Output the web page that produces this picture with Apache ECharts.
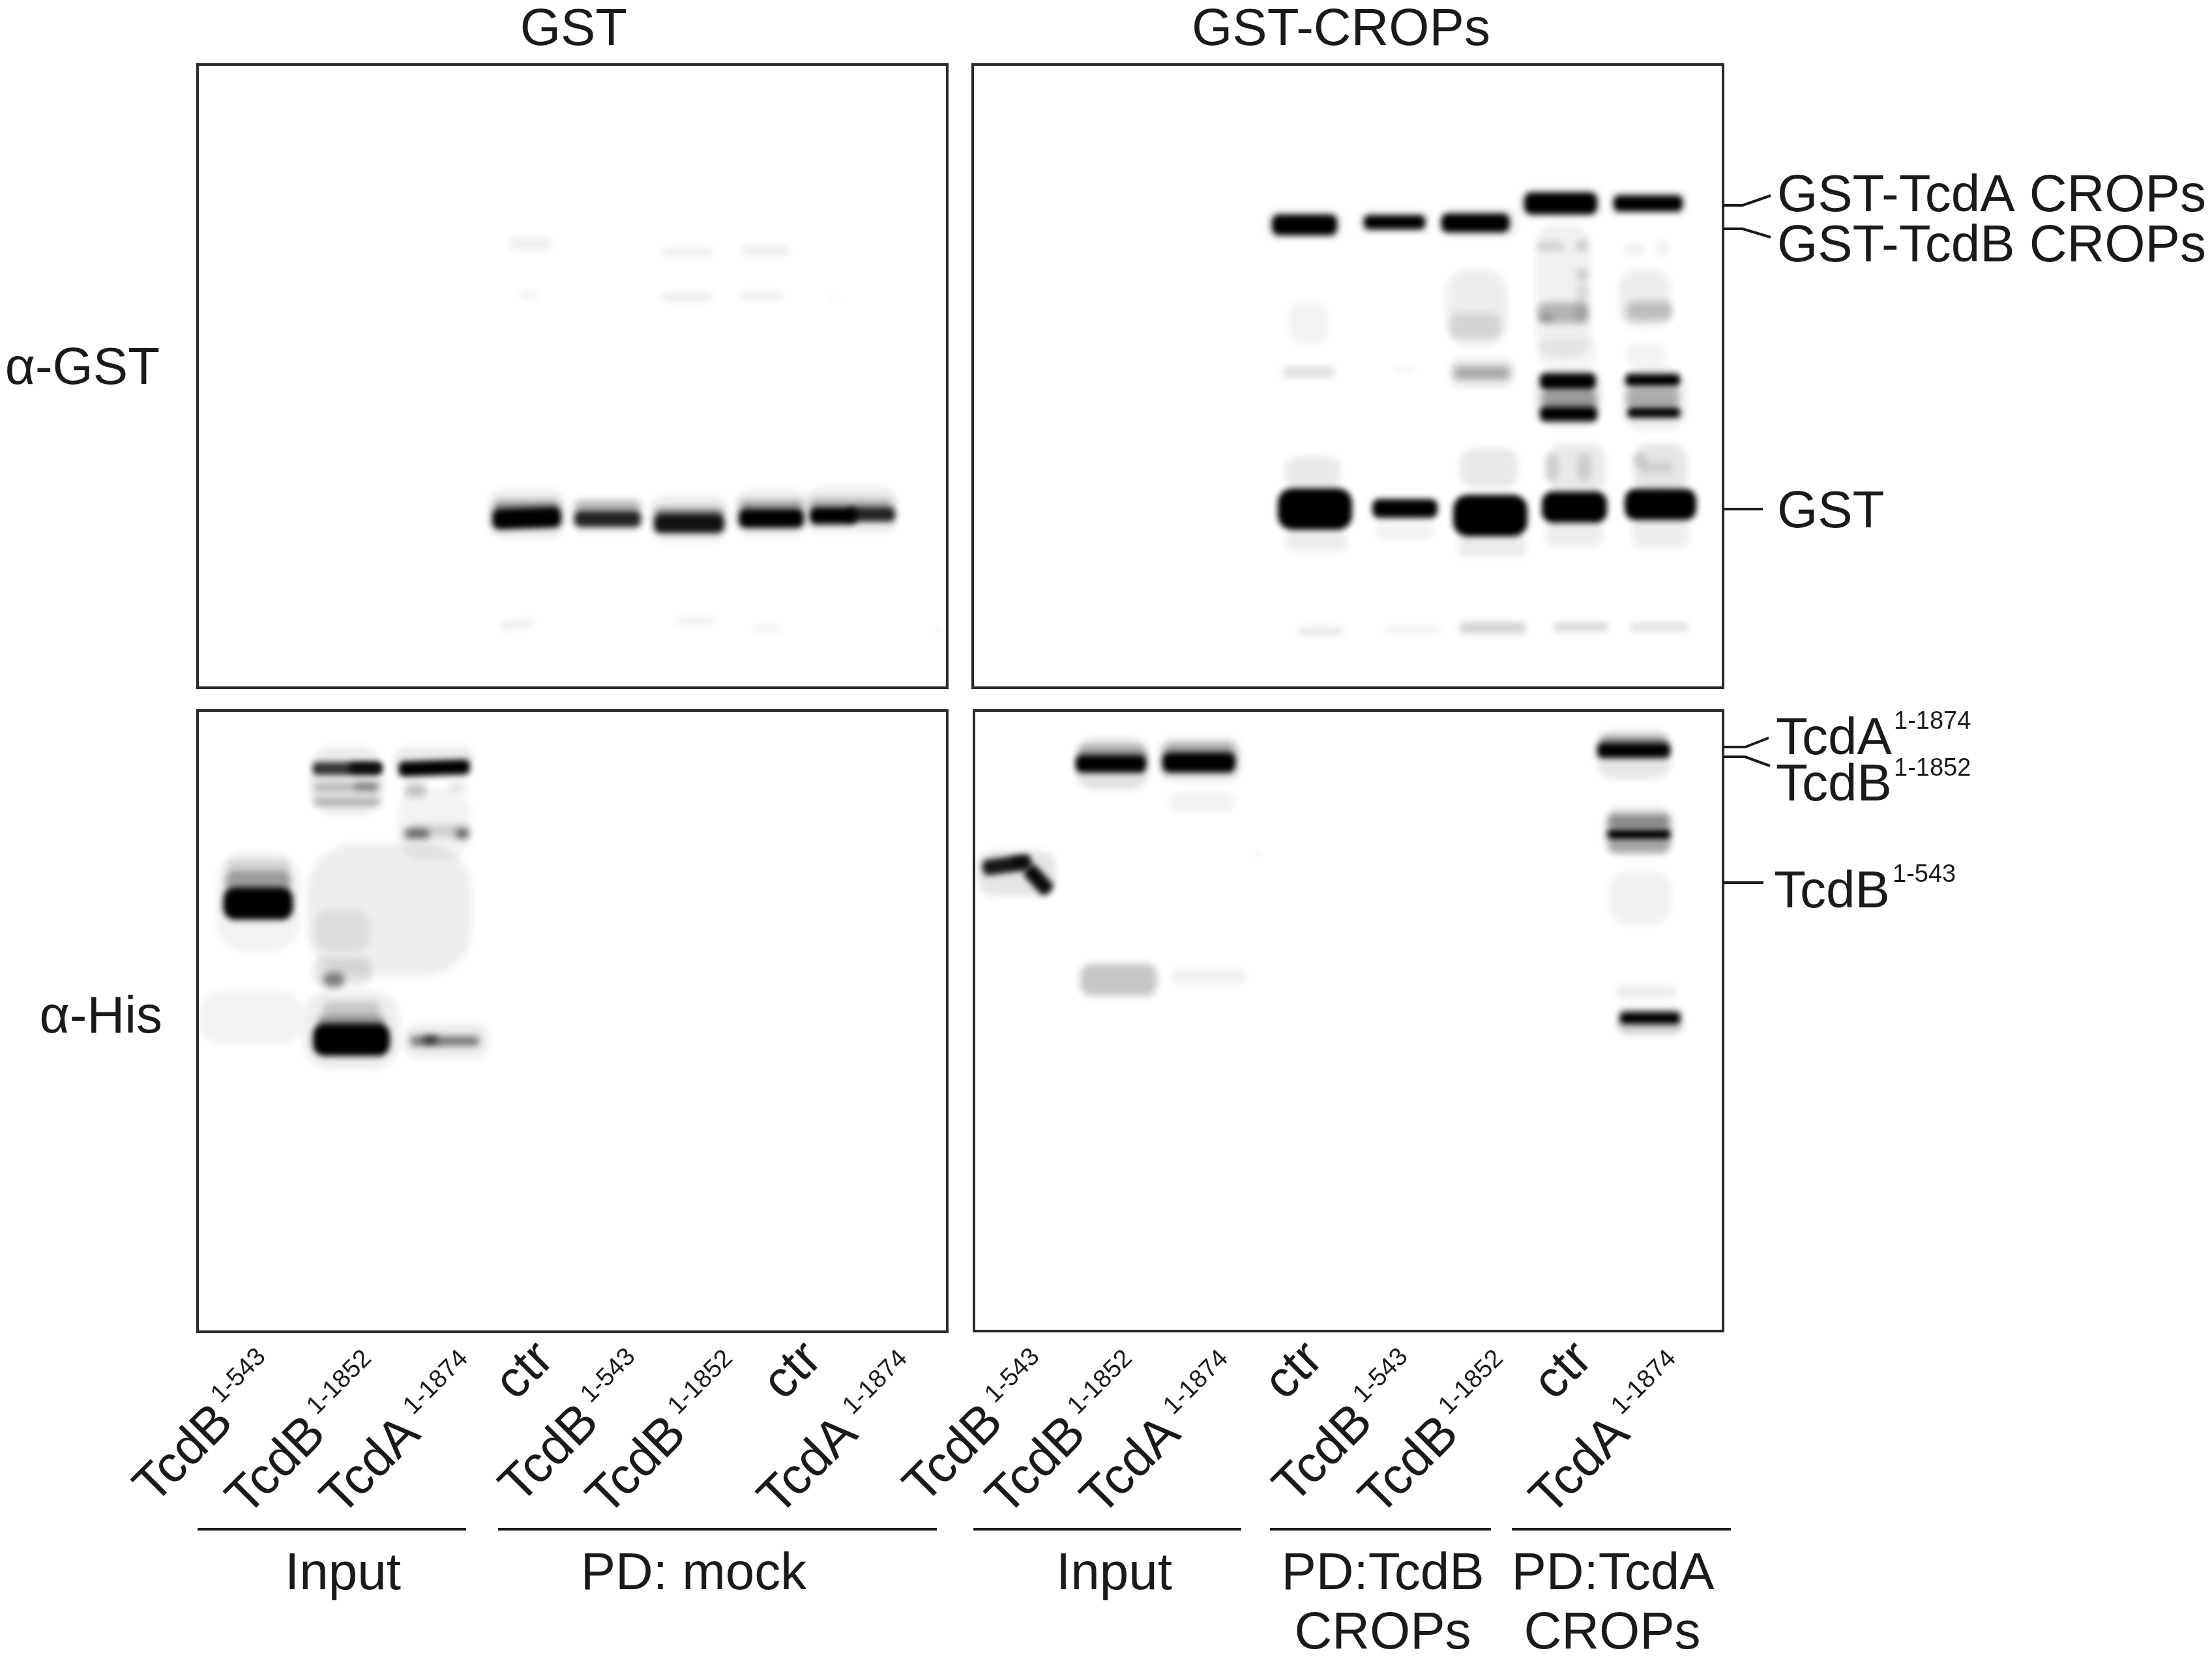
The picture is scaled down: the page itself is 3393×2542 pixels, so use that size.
<!DOCTYPE html>
<html lang="en">
<head>
    <meta charset="UTF-8">
    <title>GST pull-down blots</title>
    <script src="https://cdn.jsdelivr.net/npm/echarts@6/dist/echarts.min.js"></script>
    <style>
        html, body { margin: 0; padding: 0; background: #fff; }
    </style>
</head>
<body>
    <div id="main" style="width: 3393px; height: 2542px;"></div>
    <script>
        // bands: [lane position, migration, band width, band thickness, density, tilt]
        const gstMockBands = [
            [510, 275, 63, 18, .07], [508, 354, 27, 8, .07], [751, 288, 76, 13, .07], [751, 357, 78, 13, .07],
            [871, 286, 73, 17, .07], [865, 355, 63, 12, .07], [977, 359, 15, 5, .05],
            [490, 859, 51, 12, .07, -8], [765, 854, 58, 10, .07], [874, 865, 41, 9, .06], [1134, 869, 12, 13, .05],
            [505, 689, 122, 76, .07], [629, 691, 110, 56, .07], [754, 696, 120, 72, .07], [880, 688, 112, 74, .07], [1002, 683, 146, 72, .07],
            [505, 679, 100, 20, .35], [629, 678, 98, 15, .25], [754, 687, 104, 15, .35], [880, 676, 96, 15, .3], [1002, 674, 125, 15, .25],
            [505, 696, 106, 32, 1, -2], [629, 697, 102, 25, .85], [754, 704, 108, 30, .92], [880, 696, 100, 30, 1], [975, 692, 72, 27, 1], [1034, 690, 72, 23, .85]
        ];

        const cropsBands = [
            // pale smears behind the lanes
            [906, 348, 85, 205, .06], [1031, 359, 80, 90, .07], [773, 373, 93, 117, .07], [515, 396, 60, 64, .05],
            [1015, 284, 30, 18, .06], [1058, 281, 18, 22, .06], [912, 440, 90, 40, .05], [1033, 445, 60, 33, .05],
            [771, 401, 80, 40, .1], [781, 473, 100, 45, .08], [781, 473, 85, 20, .28],
            [515, 472, 80, 16, .13], [663, 468, 32, 6, .06],
            [886, 279, 42, 13, .14], [935, 277, 18, 13, .18], [935, 323, 16, 16, .18], [935, 351, 18, 30, .1],
            [906, 381, 78, 32, .25], [880, 389, 20, 12, .2], [933, 381, 18, 28, .1], [1038, 378, 70, 30, .2],
            [913, 510, 105, 95, .07], [1046, 512, 100, 100, .07], [915, 514, 85, 30, .35], [1043, 511, 80, 30, .28],
            [522, 625, 84, 46, .09], [792, 619, 90, 60, .09], [926, 619, 90, 76, .09], [1055, 619, 84, 76, .1],
            [888, 618, 20, 40, .12], [938, 618, 20, 40, .12], [1023, 606, 20, 20, .12], [1048, 618, 50, 16, .1],
            [527, 733, 96, 30, .07], [663, 714, 88, 28, .05], [797, 740, 106, 30, .08], [923, 720, 88, 40, .07], [1055, 720, 88, 44, .07],
            // top doublets
            [509, 246, 116, 46, .07], [647, 242, 108, 36, .07], [776, 243, 118, 44, .07], [902, 213, 126, 48, .07], [1036, 213, 120, 38, .07],
            [509, 246, 100, 32, 1], [647, 242, 94, 22, 1], [771, 243, 105, 29, 1], [902, 213, 112, 34, 1], [1036, 213, 106, 25, 1],
            // CROPs breakdown products
            [913, 486, 86, 25, 1], [914, 536, 88, 23, 1], [1043, 484, 84, 19, 1], [1045, 534, 81, 16, 1],
            // GST row
            [525, 682, 114, 64, 1], [663, 681, 100, 29, 1], [794, 692, 114, 64, 1], [923, 679, 100, 48, 1], [1055, 675, 110, 48, 1],
            // bottom row
            [534, 869, 68, 12, .1], [675, 867, 84, 8, .07], [798, 864, 102, 17, .18], [933, 863, 84, 12, .18], [1053, 863, 88, 11, .15]
        ];

        const hisMockBands = [
            [82, 471, 156, 80, .05], [295, 306, 252, 203, .07], [93, 293, 130, 153, .05], [229, 107, 112, 105, .08], [363, 175, 112, 110, .05],
            [222, 338, 85, 65, .07], [222, 400, 90, 42, .1], [209, 413, 31, 23, .45], [236, 490, 150, 120, .07],
            [236, 458, 86, 24, .15], [236, 478, 100, 22, .35], [93, 240, 96, 24, .12], [93, 262, 100, 30, .35], [93, 296, 107, 50, 1],
            [229, 89, 105, 20, .78], [258, 88, 50, 15, .85], [229, 118, 100, 12, .25], [258, 116, 35, 12, .3],
            [229, 140, 102, 11, .28], [236, 505, 118, 50, 1],
            [363, 80, 120, 50, .08], [370, 185, 93, 20, .14], [334, 122, 33, 20, .22], [399, 118, 25, 15, .1],
            [336, 189, 38, 15, .5], [406, 189, 20, 15, .5],
            [363, 88, 109, 23, 1, -2], [382, 507, 130, 54, .07], [379, 507, 105, 15, .5], [357, 505, 22, 13, .6]
        ];

        const hisCropsBands = [
            [66, 250, 120, 70, .1], [212, 81, 112, 78, .12], [346, 75, 128, 67, .1], [350, 141, 100, 30, .05], [434, 222, 12, 12, .05],
            [50, 237, 74, 24, .9, -8], [99, 260, 50, 24, .95, 48], [72, 232, 30, 14, .6],
            [212, 70, 104, 30, .3], [346, 66, 108, 30, .3], [210, 82, 108, 27, 1], [345, 80, 112, 31, 1],
            [222, 413, 118, 50, .22], [360, 410, 115, 24, .06],
            [1012, 67, 115, 75, .1], [1020, 185, 108, 75, .1], [1022, 287, 95, 85, .06], [1032, 432, 90, 20, .08], [1037, 476, 100, 40, .2],
            [1012, 46, 100, 12, .35], [1020, 170, 94, 22, .4], [1020, 208, 92, 18, .3],
            [1012, 61, 112, 24, 1], [1020, 190, 97, 16, 1], [1037, 472, 92, 18, 1]
        ];

        const panelTitles = ['GST', 'GST-CROPs'];
        const blotLabels = ['\u03b1-GST', '\u03b1-His'];
        const laneNames = ['TcdB', 'TcdB', 'TcdA', 'ctr', 'TcdB', 'TcdB', 'ctr', 'TcdA', 'TcdB', 'TcdB', 'TcdA', 'ctr', 'TcdB', 'TcdB', 'ctr', 'TcdA'];
        const laneSpans = ['1-543', '1-1852', '1-1874', '', '1-543', '1-1852', '', '1-1874', '1-543', '1-1852', '1-1874', '', '1-543', '1-1852', '', '1-1874'];
        const groupNames = ['Input', 'PD: mock', 'Input', 'PD:TcdB', 'PD:TcdA'];

        // where the lane labels start on the page
        const laneNameAt = [[237, 2310], [379, 2328], [524, 2328], [791, 2151], [798, 2310], [932, 2328], [1202, 2151], [1195, 2328],
            [1418, 2310], [1545, 2328], [1690, 2328], [1971, 2151], [1985, 2310], [2117, 2328], [2384, 2151], [2379, 2328]];
        const laneSpanAt = [[339, 2154], [486, 2172], [634, 2172], null, [906, 2154], [1040, 2172], null, [1308, 2172],
            [1526, 2154], [1653, 2172], [1800, 2172], null, [2091, 2154], [2222, 2172], null, [2487, 2172]];

        const INK = '#1a1a1a';
        const FONT = '"Liberation Sans", Arial, sans-serif';
        const BASE = 0.285; // canvas middle to alphabetic baseline, in em
        const OFFPAGE = 6000;

        function text(x, y, str, size, align, angle) {
            return {
                type: 'text',
                x: x,
                y: y,
                rotation: angle || 0,
                silent: true,
                style: {
                    x: 0,
                    y: -BASE * size,
                    text: str,
                    fill: INK,
                    font: size + 'px ' + FONT,
                    align: align || 'left',
                    verticalAlign: 'middle'
                }
            };
        }

        function line(points, width) {
            return {
                type: 'polyline',
                silent: true,
                shape: { points: points },
                style: { stroke: INK, lineWidth: width || 4, fill: null }
            };
        }

        // only the blurred shadow lands on the page, the shape itself sits off it
        function renderBand(params, api) {
            const c = api.coord([api.value(0), api.value(1)]);
            const s = api.size([api.value(2), api.value(3)]);
            const density = api.value(4);
            return {
                type: 'rect',
                x: c[0] - OFFPAGE,
                y: c[1],
                rotation: -(api.value(5) || 0) * Math.PI / 180,
                shape: { x: -s[0] / 2, y: -s[1] / 2, width: s[0], height: s[1], r: Math.min(s[0], s[1]) * .35 },
                style: {
                    fill: '#000',
                    shadowBlur: density > .6 ? 10 : 11,
                    shadowOffsetX: OFFPAGE,
                    shadowColor: 'rgba(0,0,0,' + density + ')'
                }
            };
        }

        const panels = [
            { left: 303, top: 99, width: 1150, height: 956, bands: gstMockBands },
            { left: 1492, top: 99, width: 1151, height: 956, bands: cropsBands },
            { left: 303, top: 1090, width: 1150, height: 953, bands: hisMockBands },
            { left: 1494, top: 1090, width: 1149, height: 952, bands: hisCropsBands }
        ];

        const graphics = [
            text(880, 70, panelTitles[0], 80, 'center'),
            text(2057, 70, panelTitles[1], 80, 'center'),
            text(245, 590, blotLabels[0], 80, 'right'),
            text(249, 1585, blotLabels[1], 80, 'right'),

            text(2726, 325, 'GST-TcdA CROPs', 80),
            text(2726, 402, 'GST-TcdB CROPs', 80),
            text(2726, 810, 'GST', 80),
            text(2724, 1158, 'TcdA', 80),
            text(2905, 1118, '1-1874', 38),
            text(2724, 1229, 'TcdB', 80),
            text(2905, 1190, '1-1852', 38),
            text(2721, 1393, 'TcdB', 80),
            text(2903, 1353, '1-543', 38),

            line([[2643, 315], [2673, 315], [2716, 300]]),
            line([[2643, 351], [2673, 351], [2716, 364]]),
            line([[2643, 781], [2704, 781]]),
            line([[2643, 1146], [2677, 1146], [2713, 1132]]),
            line([[2643, 1161], [2677, 1161], [2715, 1175]]),
            line([[2643, 1354], [2705, 1354]]),

            line([[303, 2346], [715, 2346]]),
            line([[764, 2346], [1437, 2346]]),
            line([[1493, 2346], [1904, 2346]]),
            line([[1948, 2346], [2287, 2346]]),
            line([[2319, 2346], [2655, 2346]]),

            text(526, 2439, groupNames[0], 80, 'center'),
            text(1064, 2439, groupNames[1], 80, 'center'),
            text(1709, 2439, groupNames[2], 80, 'center'),
            text(2121, 2439, groupNames[3], 80, 'center'),
            text(2474, 2439, groupNames[4], 80, 'center'),
            text(2121, 2530, 'CROPs', 80, 'center'),
            text(2473, 2530, 'CROPs', 80, 'center')
        ];

        laneNames.forEach(function (name, i) {
            graphics.push(text(laneNameAt[i][0], laneNameAt[i][1], name, 79, 'left', Math.PI / 4));
            if (laneSpanAt[i]) {
                graphics.push(text(laneSpanAt[i][0], laneSpanAt[i][1], laneSpans[i], 39, 'left', Math.PI / 4));
            }
        });

        var myChart = echarts.init(document.getElementById('main'), null, { width: 3393, height: 2542, devicePixelRatio: 1 });
        var option = {
            animation: false,
            backgroundColor: '#fff',
            grid: panels.map(function (p) {
                return {
                    left: p.left,
                    top: p.top,
                    width: p.width,
                    height: p.height,
                    show: true,
                    borderColor: '#2a2a2a',
                    borderWidth: 4,
                    backgroundColor: 'transparent'
                };
            }),
            xAxis: panels.map(function (p, i) {
                return { type: 'value', gridIndex: i, min: 0, max: p.width, show: false };
            }),
            yAxis: panels.map(function (p, i) {
                return { type: 'value', gridIndex: i, min: 0, max: p.height, inverse: true, show: false };
            }),
            series: panels.map(function (p, i) {
                return {
                    type: 'custom',
                    xAxisIndex: i,
                    yAxisIndex: i,
                    clip: false,
                    silent: true,
                    renderItem: renderBand,
                    encode: { x: 0, y: 1 },
                    data: p.bands.map(function (b) {
                        return [b[0], b[1], b[2], b[3], b[4], b[5] || 0];
                    })
                };
            }),
            graphic: graphics
        };
        myChart.setOption(option);
    </script>
</body>
</html>
